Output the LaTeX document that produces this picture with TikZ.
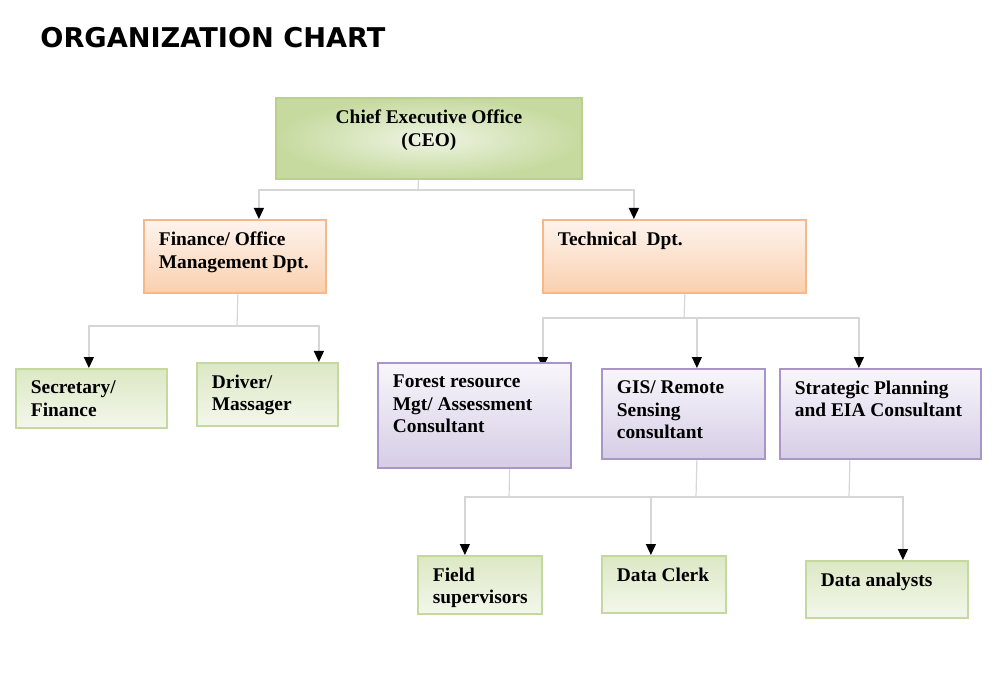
\documentclass[tikz,border=0pt]{standalone}
\usepackage{fontspec}
\setmainfont{Liberation Serif}
\newfontfamily\headfont{DejaVu Sans}
\usepackage{xcolor}
\usepackage{tikz}
\usetikzlibrary{arrows.meta,positioning,backgrounds}
\definecolor{wirecol}{HTML}{D6D6D6}
\definecolor{ceoline}{HTML}{B9D08F}
\definecolor{ceoin}{HTML}{EEF4E3}
\definecolor{ceoout}{HTML}{C6DA9F}
\definecolor{deptline}{HTML}{F5B88A}
\definecolor{depttop}{HTML}{FEF4EE}
\definecolor{deptbot}{HTML}{FAD0AE}
\definecolor{staffline}{HTML}{C5D8A0}
\definecolor{stafftop}{HTML}{DCE8C4}
\definecolor{staffbot}{HTML}{F3F7EB}
\definecolor{consline}{HTML}{A996C6}
\definecolor{constop}{HTML}{F8F6FB}
\definecolor{consbot}{HTML}{D6CDE6}
\newcommand{\boxtext}[3]{\parbox[t][#2][t]{#1}{\raggedright #3}}

\begin{document}
\begin{tikzpicture}[
    x=0.5pt, y=-0.5pt,
    wire/.style={draw=wirecol, line width=0.6pt},
    link/.style={wire, -{Triangle[width=5pt, length=5.5pt, color=black]}},
    orgbox/.style={rectangle, anchor=north west, line width=0.9pt, inner xsep=7.5pt, inner ysep=6pt,
        font=\fontsize{9.7}{11.3}\selectfont\bfseries},
    ceobox/.style={orgbox, draw=ceoline, inner color=ceoin, outer color=ceoout},
    deptbox/.style={orgbox, draw=deptline, top color=depttop, bottom color=deptbot},
    staffbox/.style={orgbox, draw=staffline, top color=stafftop, bottom color=staffbot},
    consbox/.style={orgbox, draw=consline, top color=constop, bottom color=consbot}]
\useasboundingbox (0,0) rectangle (1000,689);

\node[anchor=base west, inner sep=0, font=\headfont\bfseries\fontsize{13.6}{16}\selectfont] (title) at (40,48) {ORGANIZATION CHART};

\node[ceobox]   (ceo)      at (275,97)  {\parbox[t][28.5pt][t]{138pt}{\centering Chief Executive Office\\ (CEO)}};
\node[deptbox]  (fin)      at (143,219) {\boxtext{76pt}{24.5pt}{Finance/ Office\\ Management Dpt.}};
\node[deptbox]  (tech)     at (542,219) {\boxtext{116.5pt}{24.5pt}{Technical\ \ Dpt.}};
\node[staffbox] (sec)      at (15,368)  {\boxtext{60.5pt}{17.5pt}{Secretary/\\ Finance}};
\node[staffbox] (drv)      at (196,362) {\boxtext{55.5pt}{19.5pt}{Driver/\\ Massager}};
\node[consbox]  (forest)   at (377,362) {\boxtext{81.5pt}{40.5pt}{Forest resource\\ Mgt/ Assessment\\ Consultant}};
\node[consbox]  (gis)      at (601,368) {\boxtext{66.5pt}{33pt}{GIS/ Remote\\ Sensing\\ consultant}};
\node[consbox]  (strat)    at (779,368) {\boxtext{85.5pt}{33pt}{Strategic Planning\\ and EIA Consultant}};
\node[staffbox] (field)    at (417,555) {\boxtext{47pt}{17pt}{Field\\ supervisors}};
\node[staffbox] (clerk)    at (601,555) {\boxtext{47pt}{16.5pt}{Data Clerk}};
\node[staffbox] (analysts) at (805,560) {\boxtext{66pt}{16.5pt}{Data analysts}};

\coordinate (ceoJ)    at (418,190);
\coordinate (finJ)    at (237,326);
\coordinate (techJ)   at (684,318);
\coordinate (forestJ) at (509,497);
\coordinate (gisJ)    at (696,497);
\coordinate (stratJ)  at (849,497);

\begin{scope}[on background layer]
\path[wire] ([xshift=-5pt, yshift=5pt]ceo.south) -- (ceoJ);
\path[link] (ceoJ) -| ([xshift=12pt]fin.north);
\path[link] (ceoJ) -| ([xshift=-20.25pt]tech.north);

\path[wire] ([xshift=1.5pt]fin.south) -- (finJ);
\path[link] (finJ) -| ([xshift=-1.25pt]sec.north);
\path[link] (finJ) -| ([xshift=25.75pt]drv.north);

\path[wire] ([xshift=5.25pt]tech.south) -- (techJ);
\path[link] (techJ) -| ([xshift=34.25pt, yshift=-3pt]forest.north);
\path[link] (techJ) -| ([xshift=6.75pt]gis.north);
\path[link] (techJ) -| ([xshift=-10.75pt]strat.north);

\path[wire] ([xshift=17.75pt, yshift=6pt]forest.south) -- (forestJ);
\path[wire] ([xshift=6.75pt]gis.south) -- (gisJ);
\path[wire] ([xshift=-15.25pt]strat.south) -- (stratJ);
\path[wire] (forestJ) -- (stratJ);
\path[link] (forestJ) -| ([xshift=-7.5pt]field.north);
\path[link] (gisJ) -| ([xshift=-6.5pt]clerk.north);
\path[link] (stratJ) -| ([xshift=8pt]analysts.north);
\end{scope}

\end{tikzpicture}
\end{document}
